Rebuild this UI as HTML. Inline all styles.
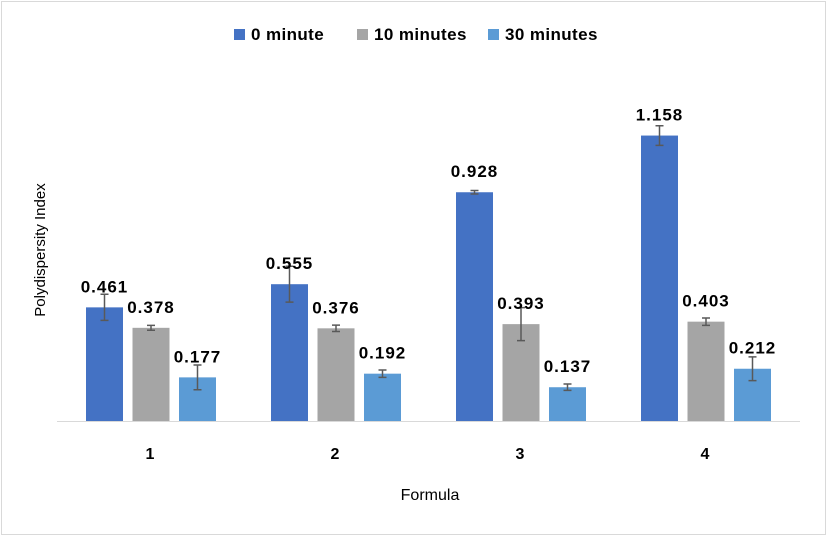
<!DOCTYPE html>
<html><head><meta charset="utf-8"><style>
body{margin:0;background:#fff;}
svg text{font-family:"Liberation Sans",sans-serif;font-weight:bold;fill:#000;}
</style></head><body>
<svg width="827" height="536">
<rect x="1.5" y="1.5" width="824" height="533" fill="#fff" stroke="#d9d9d9"/>
<g id="legend"></g>
<line x1="57" y1="421.5" x2="800" y2="421.5" stroke="#d9d9d9"/>
<g id="bars"></g>
<text x="45" y="250" font-size="15" text-anchor="middle" transform="rotate(-90 45 250)" style="font-weight:normal">Polydispersity Index</text>
<text x="430" y="500" font-size="16" text-anchor="middle" style="font-weight:normal">Formula</text>
</svg>
<script>
const categories=["1","2","3","4"];
const seriesNames=["0 minute","10 minutes","30 minutes"];
const s0=[0.461,0.555,0.928,1.158];
const s1=[0.378,0.376,0.393,0.403];
const s2=[0.177,0.192,0.137,0.212];
const e0=[0.053,0.073,0.007,0.04];
const e1=[0.01,0.013,0.067,0.015];
const e2=[0.05,0.015,0.013,0.048];
const series=[s0,s1,s2], errs=[e0,e1,e2];
const colors=["#4472C4","#A5A5A5","#5B9BD5"];
const NS="http://www.w3.org/2000/svg";
const base=421, scale=246.5;
const y=v=>base-v*scale;
const groupX=i=>150+i*185;
const barX=(i,s)=>groupX(i)-64+s*46.5;
const bw=37;
const g=document.getElementById('bars');
function mk(t,a,p){const e=document.createElementNS(NS,t);for(const k in a)e.setAttribute(k,a[k]);(p||g).appendChild(e);return e;}
categories.forEach((c,i)=>{
  series.forEach((sv,s)=>{
    const v=sv[i],x=barX(i,s),cx=x+bw/2;
    const r=mk('rect',{x:x,y:y(v),width:bw,height:base-y(v),fill:colors[s]});
    
    
    const e=errs[s][i];
    const eb=mk('path',{d:`M${cx},${y(v+e)}V${y(v-e)}M${cx-4},${y(v+e)}H${cx+4}M${cx-4},${y(v-e)}H${cx+4}`,stroke:'#595959','stroke-width':1.5,fill:'none'});
    
    
    const t=mk('text',{x:cx,y:y(v)-15,'font-size':17,'text-anchor':'middle','letter-spacing':1});
    t.textContent=v.toFixed(3);
    
    
  });
  const t=mk('text',{x:groupX(i),y:459,'font-size':16,'text-anchor':'middle'});
  t.textContent=c;
  
  
});
const lg=document.getElementById('legend');
const lx=[234,357,488];
seriesNames.forEach((n,s)=>{
  const r=mk('rect',{x:lx[s],y:29,width:11,height:11,fill:colors[s]},lg);
  
  
  const t=mk('text',{x:lx[s]+17,y:40,'font-size':17,'letter-spacing':0.4},lg);
  t.textContent=n;
  
  
});
</script>
</body></html>
